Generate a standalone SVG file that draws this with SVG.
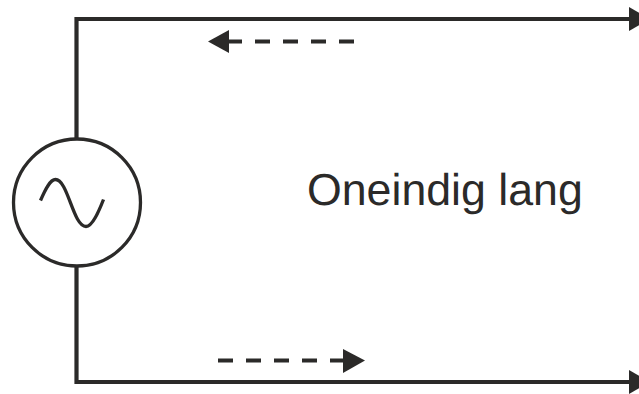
<svg xmlns="http://www.w3.org/2000/svg" width="639" height="394" viewBox="0 0 639 394">
<style>
.w{fill:none;stroke:#2b2a29;stroke-width:4.200}
.d{fill:none;stroke:#2b2a29;stroke-width:4.200;stroke-dasharray:15 13}
.h{fill:#2b2a29}
.t{font-family:"Liberation Sans",Arial,sans-serif;font-size:44.700px;fill:#2b2a29;text-rendering:geometricPrecision}
</style>
<rect width="639" height="394" fill="#ffffff"/>
<g id="connectors">
<path class="w" d="M630 19H76.500V139"/>
<path class="w" d="M76.500 266V382H630"/>
<polygon class="h" points="629,7 650,19 629,31"/>
<polygon class="h" points="629,370 650,382 629,394"/>
<path class="d" d="M354 41.500H228"/>
<polygon class="h" points="229,30 208,41.500 229,53"/>
<path class="d" d="M218 360.500H344"/>
<polygon class="h" points="343,349 365,360.500 343,373"/>
</g>
<g id="source">
<circle cx="77" cy="202.500" r="63.500" fill="none" stroke="#2b2a29" stroke-width="3.300"/>
<path fill="none" stroke="#2b2a29" stroke-width="3.300" d="M40.500 200.500C45 190 50 179.500 55.500 179.500C68 179.500 73 226.500 86 226.500C92.500 226.500 99 211 103.500 199.500"/>
</g>
<g id="label">
<text class="t" x="307" y="205">Oneindig lang</text>
</g>
</svg>
